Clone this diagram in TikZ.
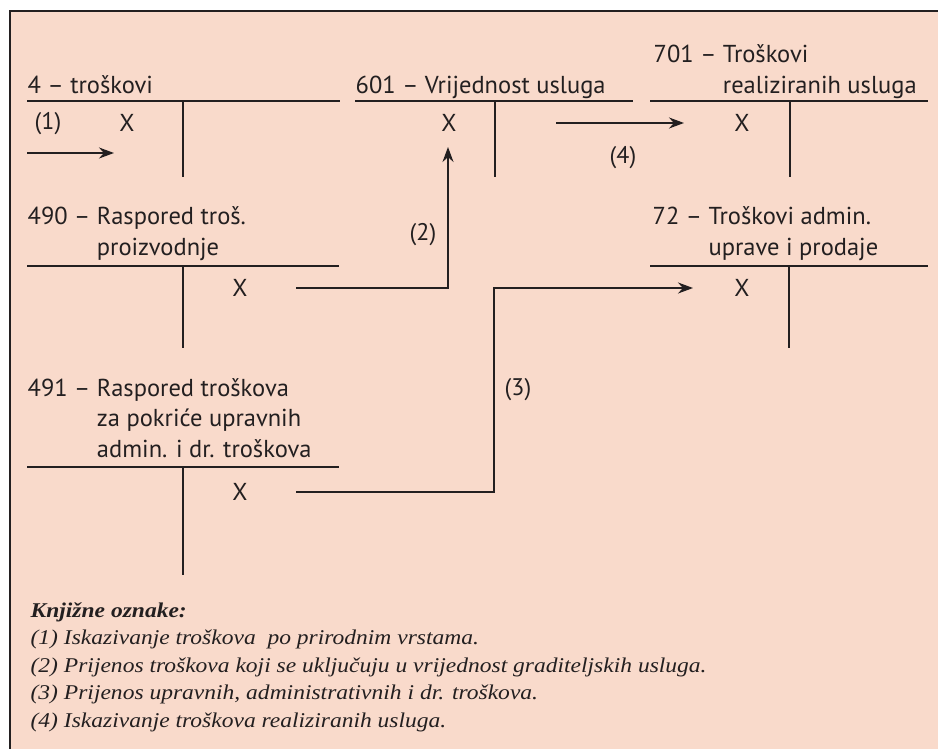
\documentclass[tikz,border=0pt]{standalone}
\usepackage{fontspec}
\setmainfont{PT Sans}
\newfontfamily\notefont[FakeStretch=1.12]{Liberation Serif}
\usetikzlibrary{arrows.meta}
\definecolor{peach}{RGB}{249,218,203}
\definecolor{ink}{RGB}{35,31,32}
\begin{document}
\begin{tikzpicture}[x=1pt,y=-1pt,line width=1.3pt,color=ink,
  acct/.style={anchor=south west,inner sep=0pt,text depth=0pt,align=left,font=\fontsize{24.5}{30.5}\selectfont},
  xmark/.style={inner sep=0pt,font=\fontsize{24.5}{30}\selectfont},
  lbl/.style={inner sep=0pt,font=\fontsize{24}{28}\selectfont},
  tip/.style={-{Stealth[length=15pt,width=11pt]}},
  notes/.style={anchor=south west,inner sep=0pt,text depth=0pt,align=left,font=\notefont\itshape\fontsize{21}{27.5}\selectfont}]
\useasboundingbox (0,0) rectangle (938,749);
\fill[white] (0,0) rectangle (938,749);
\fill[peach] (10,11) rectangle (938,749);
\draw (10,749) -- (10,11) -- (938,11);

% account 4
\node[acct] (t4) at (27,94) {4 – troškovi};
\draw (27,101) -- (340,101);
\draw (183,101) -- (183,177);
\node[xmark] (x4) at (127,123) {X};
\node[lbl] (l1) at (48,124) {(1)};
\coordinate (s1) at (27,153);
\coordinate (e1) at (114,153);
\draw[tip] (s1) -- (e1);

% account 601
\node[acct] (t601) at (355,94) {601 – Vrijednost usluga};
\draw (355,101) -- (633,101);
\draw (495,101) -- (495,177);
\node[xmark] (x601) at (449,123) {X};

% account 701
\node[acct] (t701) at (653,94) {701 – Troškovi\\\phantom{701 – }realiziranih usluga};
\draw (650,101) -- (928,101);
\draw (790,101) -- (790,177);
\node[xmark] (x701) at (742,123) {X};

% arrow 4
\coordinate (s4) at (556,123);
\coordinate (e4) at (684,123);
\draw[tip] (s4) -- (e4);
\node[lbl] (l4) at (623,158) {(4)};

% account 490
\node[acct] (t490) at (27,256) {490 – Raspored troš.\\\phantom{490 – }proizvodnje};
\draw (27,266) -- (339,266);
\draw (183,266) -- (183,348);
\node[xmark] (x490) at (240,288) {X};

% arrow 2
\coordinate (s2) at (296,288);
\coordinate (e2) at (448,147);
\draw[tip] (s2) -| (e2);
\node[lbl] (l2) at (423,235) {(2)};

% account 72
\node[acct] (t72) at (652,256) {72 – Troškovi admin.\\\phantom{72 – }uprave i prodaje};
\draw (650,266) -- (928,266);
\draw (789,266) -- (789,348);
\node[xmark] (x72) at (742,288) {X};

% account 491
\node[acct] (t491) at (27,458) {491 – Raspored troškova\\\phantom{491 – }za pokriće upravnih\\\phantom{491 – }admin. i dr. troškova};
\draw (27,467) -- (339,467);
\draw (183,467) -- (183,575);
\node[xmark] (x491) at (240,492) {X};

% arrow 3
\coordinate (s3) at (296,492);
\coordinate (m3) at (494,288);
\coordinate (e3) at (693,288);
\draw[tip] (s3) -| (m3) -- (e3);
\node[lbl] (l3) at (518,390) {(3)};

% notes
\node[notes] (nt) at (30,728) {{\bfseries Knjižne oznake:}\\
(1) Iskazivanje troškova\ \ po prirodnim vrstama.\\
(2) Prijenos troškova koji se uključuju u vrijednost graditeljskih usluga.\\
(3) Prijenos upravnih, administrativnih i dr. troškova.\\
(4) Iskazivanje troškova realiziranih usluga.};
\end{tikzpicture}
\end{document}
